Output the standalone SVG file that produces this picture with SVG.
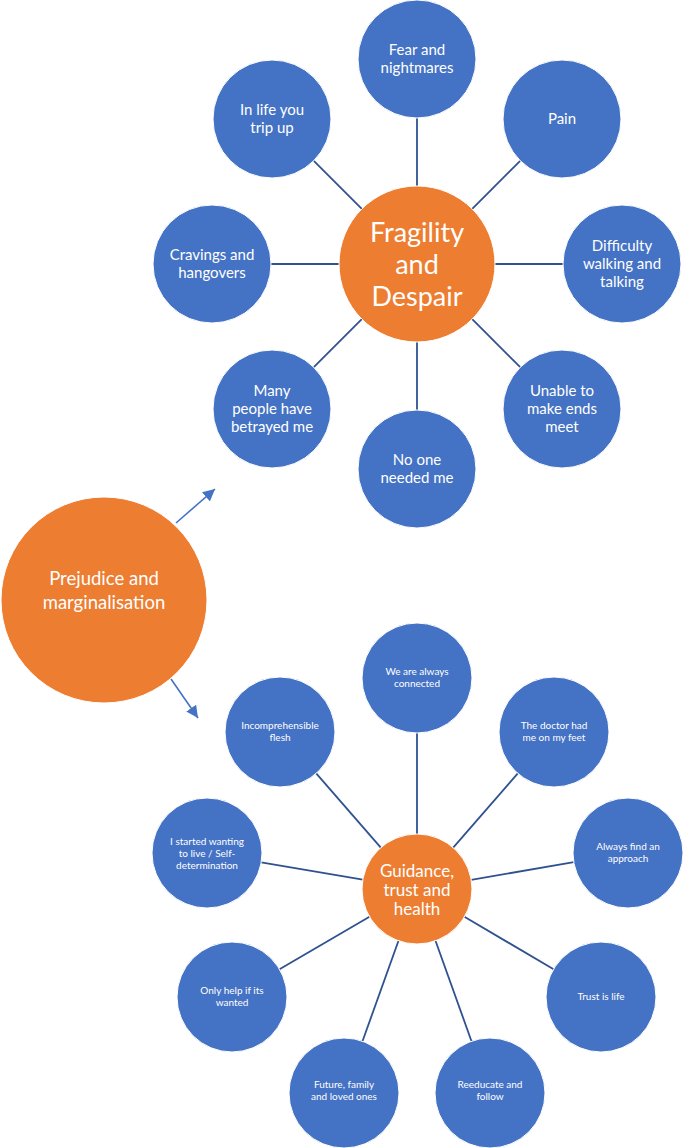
<svg xmlns="http://www.w3.org/2000/svg" width="685" height="1148" viewBox="0 0 685 1148">
<style>
.sat{fill:#4472C4;stroke:#ffffff;stroke-width:1}
.hub{fill:#ED7D31;stroke:#ffffff;stroke-width:1}
.t{font-family:Lato,"Noto Sans",sans-serif;fill:#ffffff;text-anchor:middle}
.t15{font-size:15px}
.t10{font-size:10px}
.con line{stroke:#2F528F;stroke-width:1.8}
.arr{stroke:#4472C4;stroke-width:1.6;fill:none}
</style>
<defs>
<marker id="ah" markerWidth="12" markerHeight="12" refX="10" refY="5" orient="auto" markerUnits="userSpaceOnUse" viewBox="0 0 10 10">
<path d="M0,0 L10,5 L0,10 z" fill="#4472C4"/>
</marker>
</defs>
<rect width="685" height="1148" fill="#ffffff"/>

<g id="connectors" class="con">
<line x1="417" y1="186" x2="417" y2="118"/>
<line x1="417" y1="342" x2="417" y2="410"/>
<line x1="495" y1="264" x2="563" y2="264"/>
<line x1="339" y1="264" x2="271" y2="264"/>
<line x1="472.2" y1="208.8" x2="520.2" y2="160.8"/>
<line x1="361.8" y1="208.8" x2="313.8" y2="160.8"/>
<line x1="472.2" y1="319.2" x2="520.2" y2="367.2"/>
<line x1="361.8" y1="319.2" x2="313.8" y2="367.2"/>

<line x1="417" y1="834" x2="417" y2="733"/>
<line x1="380.8" y1="847.6" x2="316.2" y2="773.4"/>
<line x1="453.2" y1="847.6" x2="517.8" y2="773.4"/>
<line x1="362.8" y1="879.7" x2="261.2" y2="862.3"/>
<line x1="471.2" y1="879.8" x2="573.8" y2="862.2"/>
<line x1="369.5" y1="916.7" x2="279.5" y2="969.3"/>
<line x1="464.4" y1="916.8" x2="553.6" y2="969.2"/>
<line x1="398.5" y1="940.8" x2="362.5" y2="1041.2"/>
<line x1="435.5" y1="940.8" x2="471.5" y2="1041.2"/>

<line class="arr" x1="176" y1="523" x2="215" y2="489" marker-end="url(#ah)" style="stroke:#4472C4;stroke-width:1.6"/>
<line class="arr" x1="171" y1="679" x2="198" y2="718" marker-end="url(#ah)" style="stroke:#4472C4;stroke-width:1.6"/>
</g>

<g id="prejudice">
<circle class="hub" cx="104" cy="600" r="103"/>
<text class="t" style="font-size:18.5px" x="104" y="585">Prejudice and</text>
<text class="t" style="font-size:18.5px" x="104" y="609">marginalisation</text>
</g>

<g id="fragility">
<circle class="hub" cx="417" cy="264" r="78"/>
<text class="t" style="font-size:27px" x="417" y="242">Fragility</text>
<text class="t" style="font-size:27px" x="417" y="274">and</text>
<text class="t" style="font-size:27px" x="417" y="306">Despair</text>
</g>

<g id="fear">
<circle class="sat" cx="417" cy="59" r="59"/>
<text class="t t15" x="417" y="55">Fear and</text>
<text class="t t15" x="417" y="73">nightmares</text>
</g>
<g id="pain">
<circle class="sat" cx="562" cy="119" r="59"/>
<text class="t t15" x="562" y="124">Pain</text>
</g>
<g id="difficulty">
<circle class="sat" cx="622" cy="264" r="59"/>
<text class="t t15" x="622" y="251">Difficulty</text>
<text class="t t15" x="622" y="269">walking and</text>
<text class="t t15" x="622" y="287">talking</text>
</g>
<g id="unable">
<circle class="sat" cx="562" cy="409" r="59"/>
<text class="t t15" x="562" y="396">Unable to</text>
<text class="t t15" x="562" y="414">make ends</text>
<text class="t t15" x="562" y="432">meet</text>
</g>
<g id="noone">
<circle class="sat" cx="417" cy="469" r="59"/>
<text class="t t15" x="417" y="465">No one</text>
<text class="t t15" x="417" y="483">needed me</text>
</g>
<g id="many">
<circle class="sat" cx="272" cy="409" r="59"/>
<text class="t t15" x="272" y="396">Many</text>
<text class="t t15" x="272" y="414">people have</text>
<text class="t t15" x="272" y="432">betrayed me</text>
</g>
<g id="cravings">
<circle class="sat" cx="212" cy="264" r="59"/>
<text class="t t15" x="212" y="260">Cravings and</text>
<text class="t t15" x="212" y="278">hangovers</text>
</g>
<g id="inlife">
<circle class="sat" cx="272" cy="119" r="59"/>
<text class="t t15" x="272" y="115">In life you</text>
<text class="t t15" x="272" y="133">trip up</text>
</g>

<g id="guidance">
<circle class="hub" cx="417" cy="889" r="55"/>
<text class="t" style="font-size:17px" x="417" y="876.5">Guidance,</text>
<text class="t" style="font-size:17px" x="417" y="895.5">trust and</text>
<text class="t" style="font-size:17px" x="417" y="914.5">health</text>
</g>

<g id="connected">
<circle class="sat" cx="417" cy="678" r="55"/>
<text class="t t10" x="417" y="675">We are always</text>
<text class="t t10" x="417" y="687">connected</text>
</g>
<g id="incomprehensible">
<circle class="sat" cx="280" cy="732" r="55"/>
<text class="t t10" x="280" y="729">Incomprehensible</text>
<text class="t t10" x="280" y="741">flesh</text>
</g>
<g id="doctor">
<circle class="sat" cx="554" cy="732" r="55"/>
<text class="t t10" x="554" y="729">The doctor had</text>
<text class="t t10" x="554" y="741">me on my feet</text>
</g>
<g id="started">
<circle class="sat" cx="207" cy="853" r="55"/>
<text class="t t10" x="207" y="845">I started wanting</text>
<text class="t t10" x="207" y="857">to live / Self-</text>
<text class="t t10" x="207" y="869">determination</text>
</g>
<g id="approach">
<circle class="sat" cx="628" cy="853" r="55"/>
<text class="t t10" x="628" y="850">Always find an</text>
<text class="t t10" x="628" y="862">approach</text>
</g>
<g id="onlyhelp">
<circle class="sat" cx="232" cy="997" r="55"/>
<text class="t t10" x="232" y="994">Only help if its</text>
<text class="t t10" x="232" y="1006">wanted</text>
</g>
<g id="trust">
<circle class="sat" cx="601" cy="997" r="55"/>
<text class="t t10" x="601" y="1000">Trust is life</text>
</g>
<g id="future">
<circle class="sat" cx="344" cy="1093" r="55"/>
<text class="t t10" x="344" y="1088">Future, family</text>
<text class="t t10" x="344" y="1100">and loved ones</text>
</g>
<g id="reeducate">
<circle class="sat" cx="490" cy="1093" r="55"/>
<text class="t t10" x="490" y="1088">Reeducate and</text>
<text class="t t10" x="490" y="1100">follow</text>
</g>
</svg>
